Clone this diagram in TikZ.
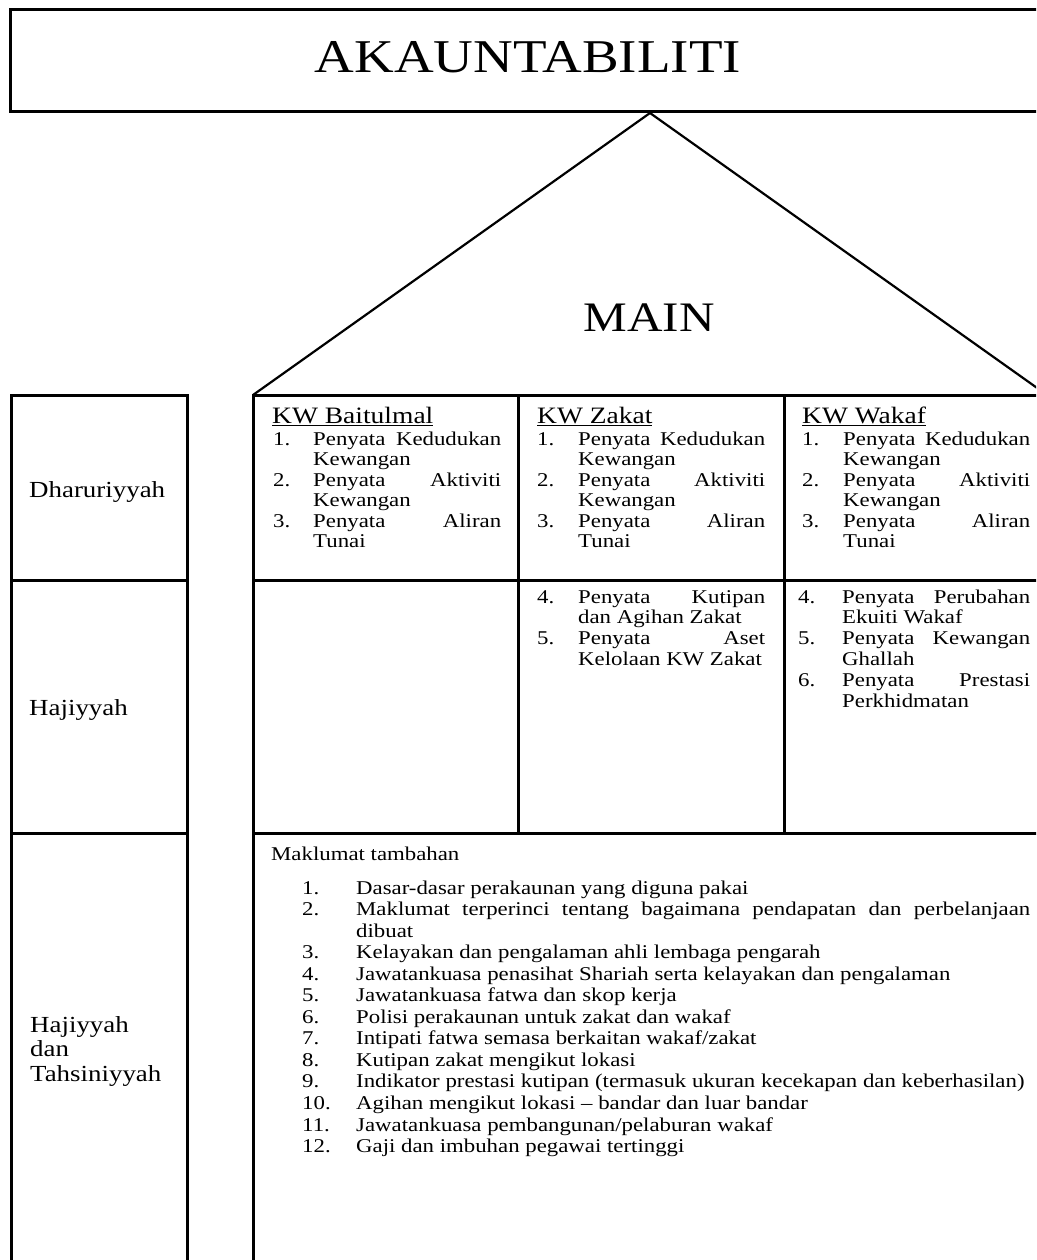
\documentclass[tikz,border=0pt]{standalone}
\usepackage{fontspec}
\setmainfont[FakeStretch=1.17]{Liberation Serif}

% hanging numbered line inside a cell
\newlength\numw
\newcommand\li[2]{\par\noindent\hangindent=\numw\hangafter=1\makebox[\numw][l]{#1}#2}
% top-aligned paragraph box: width, number column, font size, line pitch, content
\newcommand\cellbox[5]{\parbox[t]{#1}{\setlength\numw{#2}\fontsize{#3}{#4}\selectfont
  \sloppy\hyphenpenalty=10000\exhyphenpenalty=10000\parskip=0pt #5}}

\begin{document}
\begin{tikzpicture}[x=1pt,y=-1pt,
  rule/.style={line width=3pt,line join=miter,line cap=rect},
  roof/.style={line width=2.2pt,line join=miter},
  txt/.style={inner sep=0pt,anchor=base west},
  head/.style={inner sep=0pt,anchor=base west,font=\fontsize{23.5}{24}\selectfont},
  lab/.style={inner sep=0pt,anchor=base west,align=left,
    font=\fontsize{23}{24.5}\selectfont}]
\clip (0,0) rectangle (1036,1260);
\fill[white] (0,0) rectangle (1036,1260);

% title bar and roof
\draw[rule] (10,10) rectangle (1060,112);
\node[inner sep=0pt,anchor=base,font=\fontsize{47}{50}\selectfont] (title) at (528,73) {AKAUNTABILITI};
\draw[roof] (253,395) -- (650,113) -- (1047,395);
\node[inner sep=0pt,anchor=base,font=\fontsize{42}{45}\selectfont] (main) at (649,331) {MAIN};

% left label column
\draw[rule] (11,1275) -- (11,395) -- (187,395) -- (187,1275);
\draw[rule] (11,580) -- (187,580);
\draw[rule] (11,833) -- (187,833);
\node[lab] (dhar) at (29,497) {Dharuriyyah};
\node[lab] (haj) at (29,715) {Hajiyyah};
\node[lab] (hajt) at (30,1081) {Hajiyyah\\dan\\Tahsiniyyah};

% main grid
\draw[rule] (253,1275) -- (253,395) -- (1060,395);
\draw[rule] (253,580) -- (1060,580);
\draw[rule] (253,833) -- (1060,833);
\draw[rule] (518,395) -- (518,833);
\draw[rule] (784,395) -- (784,833);

% Dharuriyyah row
\node[head] (hb) at (272,423) {\underline{KW Baitulmal}};
\node[txt] (cb) at (273,445) {\cellbox{228pt}{40pt}{19.5}{20.5}{%
  \li{1.}{Penyata Kedudukan\linebreak Kewangan}
  \li{2.}{Penyata Aktiviti\linebreak Kewangan}
  \li{3.}{Penyata Aliran\linebreak Tunai}}};

\node[head] (hz) at (537,423) {\underline{KW Zakat}};
\node[txt] (cz) at (537,445) {\cellbox{228pt}{41pt}{19.5}{20.5}{%
  \li{1.}{Penyata Kedudukan\linebreak Kewangan}
  \li{2.}{Penyata Aktiviti\linebreak Kewangan}
  \li{3.}{Penyata Aliran\linebreak Tunai}}};

\node[head] (hw) at (802,423) {\underline{KW Wakaf}};
\node[txt] (cw) at (802,445) {\cellbox{228pt}{41pt}{19.5}{20.5}{%
  \li{1.}{Penyata Kedudukan\linebreak Kewangan}
  \li{2.}{Penyata Aktiviti\linebreak Kewangan}
  \li{3.}{Penyata Aliran\linebreak Tunai}}};

% Hajiyyah row
\node[txt] (hz2) at (537,603) {\cellbox{228pt}{41pt}{19.5}{20.9}{%
  \li{4.}{Penyata Kutipan\linebreak dan Agihan Zakat}
  \li{5.}{Penyata Aset\linebreak Kelolaan KW Zakat}}};
\node[txt] (hw2) at (798,603) {\cellbox{232pt}{44pt}{19.5}{20.8}{%
  \li{4.}{Penyata Perubahan\linebreak Ekuiti Wakaf}
  \li{5.}{Penyata Kewangan\linebreak Ghallah}
  \li{6.}{Penyata Prestasi\linebreak Perkhidmatan}}};

% additional information
\node[head,font=\fontsize{19.5}{20}\selectfont] (mt) at (271,860) {Maklumat tambahan};
\node[txt] (ml) at (302,894) {\cellbox{728pt}{54pt}{19.5}{21.55}{%
  \li{1.}{Dasar-dasar perakaunan yang diguna pakai}
  \li{2.}{Maklumat terperinci tentang bagaimana pendapatan dan perbelanjaan\linebreak dibuat}
  \li{3.}{Kelayakan dan pengalaman ahli lembaga pengarah}
  \li{4.}{Jawatankuasa penasihat Shariah serta kelayakan dan pengalaman}
  \li{5.}{Jawatankuasa fatwa dan skop kerja}
  \li{6.}{Polisi perakaunan untuk zakat dan wakaf}
  \li{7.}{Intipati fatwa semasa berkaitan wakaf/zakat}
  \li{8.}{Kutipan zakat mengikut lokasi}
  \li{9.}{\mbox{Indikator prestasi kutipan (termasuk ukuran kecekapan dan keberhasilan)}}
  \li{10.}{Agihan mengikut lokasi \textendash\ bandar dan luar bandar}
  \li{11.}{Jawatankuasa pembangunan/pelaburan wakaf}
  \li{12.}{Gaji dan imbuhan pegawai tertinggi}}};
\end{tikzpicture}
\end{document}
